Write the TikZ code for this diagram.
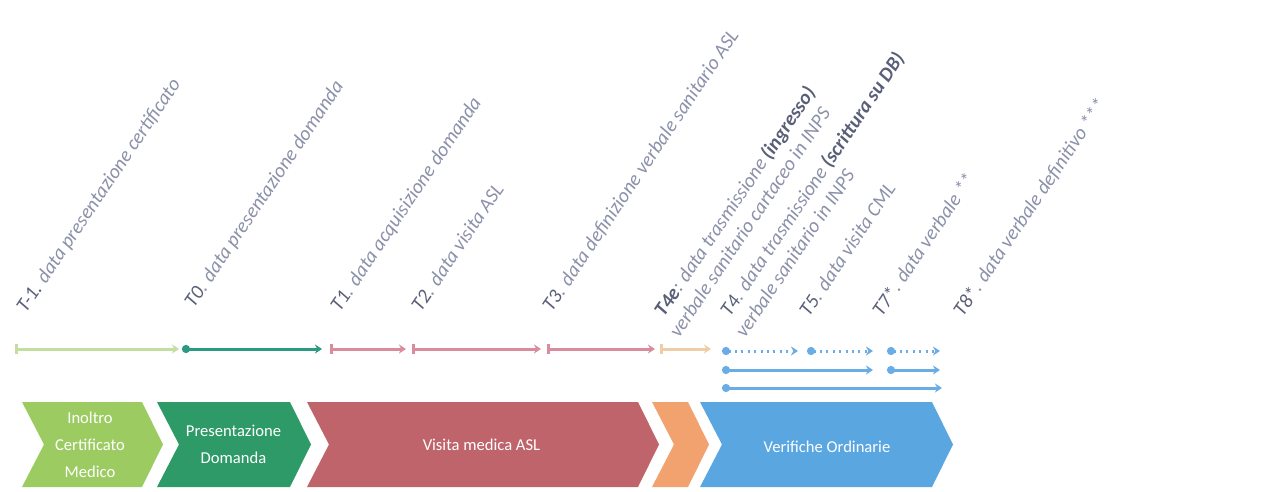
\documentclass[tikz,border=0pt]{standalone}
\usepackage{fontspec}
\setmainfont{Carlito}
\usetikzlibrary{arrows.meta}
\definecolor{cgreenL}{HTML}{9CCB62}
\definecolor{cgreenD}{HTML}{2E9A68}
\definecolor{cred}{HTML}{C0646C}
\definecolor{corange}{HTML}{F2A26F}
\definecolor{cblue}{HTML}{5AA6E0}
\definecolor{lgreenL}{HTML}{C2DFA0}
\definecolor{lteal}{HTML}{2A9A82}
\definecolor{lpink}{HTML}{D98C9B}
\definecolor{lbeige}{HTML}{EFCDA6}
\definecolor{lblue}{HTML}{6AACE6}
\definecolor{labtxt}{HTML}{8C91AA}
\definecolor{labdark}{HTML}{5A5F78}
\tikzset{
  chevtext/.style={text=white, font=\fontsize{8.3}{13.5}\selectfont, align=center},
  lab/.style={rotate=56, anchor=base west, inner sep=0pt, text=labtxt, font=\fontsize{10}{12}\selectfont\itshape},
  tl/.style={line width=1.5pt, -{Stealth[length=3.5pt,width=4.5pt]}},
  tlc/.style={line width=1.5pt, {Circle[length=4pt]}-{Stealth[length=3.5pt,width=4.5pt]}},
  tlb/.style={line width=1.5pt, {Bar[width=5pt,line width=1.5pt]}-{Stealth[length=3.5pt,width=4.5pt]}},
  dotl/.style={line width=1.5pt, dash pattern=on 1pt off 2.2pt, {Circle[length=4pt]}-{Stealth[length=3.5pt,width=4.5pt]}},
}
\newcommand\mychev[4]{% left, right, colour, name
  \fill[#3] (#1,402) -- (#2,402) -- ({#2+21},444.5) -- (#2,487) -- (#1,487) -- ({#1+22},444.5) -- cycle;
  \coordinate (#4) at ({(#1+#2)/2+11},444.5);
}
\begin{document}
\begin{tikzpicture}[x=0.5pt,y=-0.5pt]
\useasboundingbox[fill=white] (0,0) rectangle (1287,492);

% chevrons
\mychev{22}{142}{cgreenL}{c1}
\mychev{157}{290}{cgreenD}{c2}
\mychev{307}{638}{cred}{c3}
\mychev{652}{688}{corange}{c4}
\mychev{700}{932}{cblue}{c5}
\node[chevtext] (t1) at ([xshift=-1.5pt]c1) {Inoltro\\Certificato\\Medico};
\node[chevtext] (t2) at ([xshift=-0.5pt]c2) {Presentazione\\Domanda};
\node[chevtext] (t3) at ([xshift=-1pt]c3) {Visita medica ASL};
\node[chevtext] (t5) at ([yshift=-1pt]c5) {Verifiche Ordinarie};

% timeline points
\coordinate (a0) at (15,349);  \coordinate (a1) at (179,349);
\coordinate (b0) at (182,349); \coordinate (b1) at (322,349);
\coordinate (r0) at (330,349); \coordinate (r1) at (406,349);
\coordinate (r2) at (412,349); \coordinate (r3) at (541,349);
\coordinate (r4) at (547,349); \coordinate (r5) at (655,349);
\coordinate (o0) at (660,349); \coordinate (o1) at (711,349);
\coordinate (p0) at (722,351); \coordinate (p1) at (798,351);
\coordinate (p2) at (807,351); \coordinate (p3) at (873,351);
\coordinate (p4) at (887,351); \coordinate (p5) at (940,351);
\coordinate (q0) at (722,370); \coordinate (q1) at (873,370);
\coordinate (q2) at (887,370); \coordinate (q3) at (940,370);
\coordinate (s0) at (722,388); \coordinate (s1) at (942,388);

\draw[tlb, lgreenL] (a0) -- (a1);
\draw[tlc, lteal] (b0) -- (b1);
\draw[tlb, lpink] (r0) -- (r1);
\draw[tlb, lpink] (r2) -- (r3);
\draw[tlb, lpink] (r4) -- (r5);
\draw[tlb, lbeige] (o0) -- (o1);
\draw[dotl, lblue] (p0) -- (p1);
\draw[dotl, lblue] (p2) -- (p3);
\draw[dotl, lblue] (p4) -- (p5);
\draw[tlc, lblue] (q0) -- (q1);
\draw[tlc, lblue] (q2) -- (q3);
\draw[tlc, lblue] (s0) -- (s1);

% labels
\node[lab] (l1) at (26,314) {\textcolor{labdark}{T-1.} data presentazione certificato};
\node[lab] (l2) at (194,309) {\textcolor{labdark}{T0}. data presentazione domanda};
\node[lab] (l3) at (340,313) {\textcolor{labdark}{T1}. data acquisizione domanda};
\node[lab] (l4) at (421,313) {\textcolor{labdark}{T2}. data visita ASL};
\node[lab] (l5) at (552,313) {\textcolor{labdark}{T3}. data definizione verbale sanitario ASL};
\node[lab] (l6) at (664,318) {\textcolor{labdark}{\bfseries T4e}: data trasmissione \textcolor{labdark}{\bfseries (ingresso)}};
\node[lab] (l6b) at (679,339) {verbale sanitario cartaceo in INPS};
\node[lab] (l7) at (730,318) {\textcolor{labdark}{T4}. data trasmissione \textcolor{labdark}{\bfseries (scrittura su DB)}};
\node[lab] (l7b) at (745,339) {verbale sanitario in INPS};
\node[lab] (l8) at (809,318) {\textcolor{labdark}{T5}. data visita CML};
\node[lab] (l9) at (882,318) {\textcolor{labdark}{T7*}. data verbale **};
\node[lab] (l10) at (963,318) {\textcolor{labdark}{T8*}. data verbale definitivo ***};
\end{tikzpicture}
\end{document}
